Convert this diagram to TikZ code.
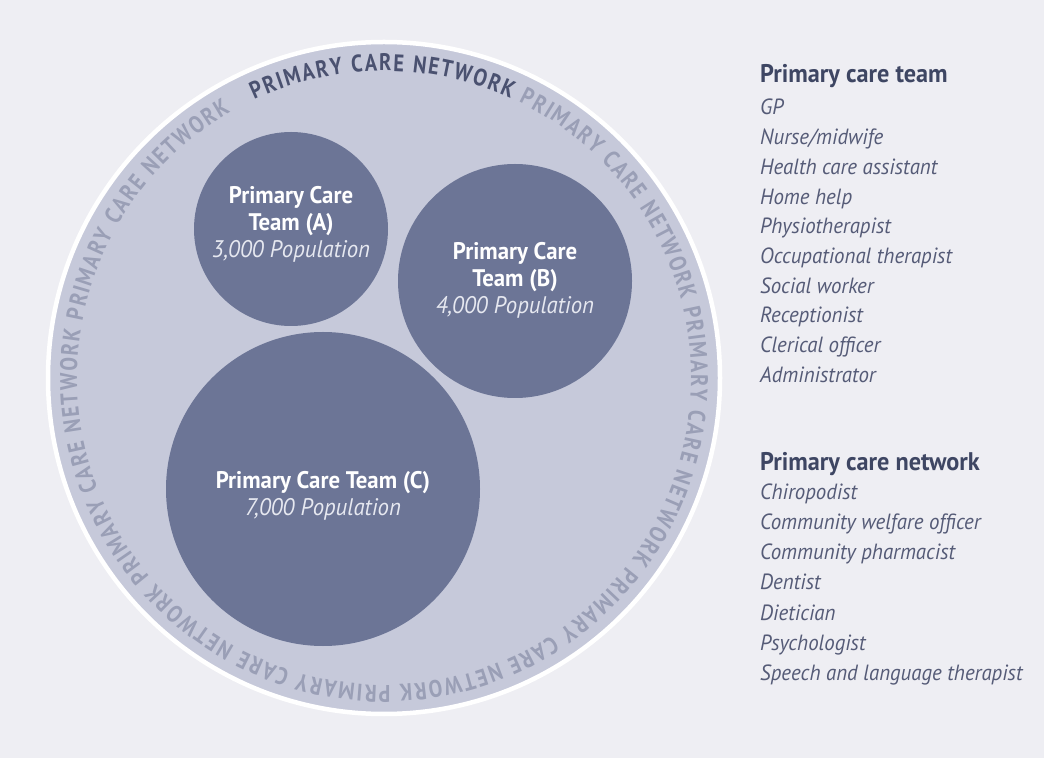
\documentclass[tikz,border=0pt]{standalone}
\usepackage{fontspec}
\setmainfont{PT Sans}
\newfontfamily\condfont[FakeStretch=0.95]{PT Sans}
\newfontfamily\listfont[FakeStretch=0.95]{PT Sans}
\newfontfamily\ringfont[FakeStretch=0.85]{PT Sans}
\usetikzlibrary{decorations.text}
\definecolor{bgc}{HTML}{EEEEF3}
\definecolor{ringc}{HTML}{C6C9DA}
\definecolor{teamc}{HTML}{6C7596}
\definecolor{ringlight}{HTML}{9A9FB6}
\definecolor{ringdark}{HTML}{4A5170}
\definecolor{itemc}{HTML}{555B77}
\definecolor{headc}{HTML}{3E4663}
\definecolor{popc}{HTML}{E6E8F0}
\tikzset{
  team/.style={circle, fill=teamc, inner sep=0pt},
  inner/.style={align=center, text=white, font=\condfont\fontsize{24}{27}\selectfont},
  listhead/.style={anchor=base west, text=headc, font=\listfont\fontsize{25.5}{28}\selectfont\bfseries, inner sep=0pt},
  listitem/.style={anchor=base west, text=itemc, font=\listfont\fontsize{22}{24}\selectfont\itshape, inner sep=0pt}
}
\newcommand\ringfmt{\ringfont\fontsize{24}{24}\selectfont\bfseries}
\begin{document}
\begin{tikzpicture}[x=1pt,y=1pt]
\fill[bgc] (0,0) rectangle (1044,758);
\useasboundingbox (0,0) rectangle (1044,758);
% network circle
\node[circle, fill=ringc, draw=white, line width=4.5pt, minimum size=672pt, inner sep=0pt] (net) at (384,380) {};
% ring text
\coordinate (ringstart) at ([shift={(115:307)}]net.center);
\path[decorate, decoration={text along path, text align={fit to path},
  text={|\ringfmt\color{ringdark}|PRIMARY CARE NETWORK |\ringfmt\color{ringlight}|PRIMARY CARE NETWORK PRIMARY CARE NETWORK PRIMARY CARE NETWORK PRIMARY CARE NETWORK PRIMARY CARE NETWORK PRIMARY CARE NETWORK}}]
  (ringstart) arc[start angle=115, end angle=-240, radius=307];
% team circles
\node[team, minimum size=194pt] (ca) at (291,529) {};
\node[team, minimum size=234pt] (cb) at (515,477) {};
\node[team, minimum size=314pt] (cc) at (323,269) {};
\node[inner] (ta) at (ca.center) [yshift=5pt] {\bfseries Primary Care\\\bfseries Team (A)\\\color{popc}\itshape 3,000 Population};
\node[inner] (tb) at (cb.center) [yshift=1pt] {\bfseries Primary Care\\\bfseries Team (B)\\\color{popc}\itshape 4,000 Population};
\node[inner] (tc) at (cc.center) [yshift=-7pt] {\bfseries Primary Care Team (C)\\\color{popc}\itshape 7,000 Population};
% lists
\node[listhead] (teamhead) at (760,675) {Primary care team};
\foreach \t [count=\i] in {GP, Nurse/midwife, Health care assistant, Home help, Physiotherapist, Occupational therapist, Social worker, Receptionist, Clerical officer, Administrator}
  \node[listitem] (team\i) at ({760},{643-29.7*(\i-1)}) {\t};
\node[listhead] (nethead) at (760,287) {Primary care network};
\foreach \t [count=\i] in {Chiropodist, Community welfare officer, Community pharmacist, Dentist, Dietician, Psychologist, Speech and language therapist}
  \node[listitem] (netw\i) at ({760},{258-30*(\i-1)}) {\t};
\end{tikzpicture}
\end{document}
